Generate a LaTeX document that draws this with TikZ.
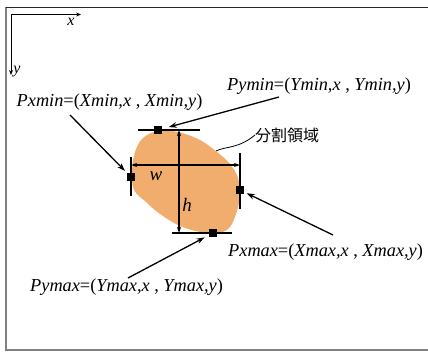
\documentclass[tikz,border=0pt]{standalone}
\usepackage{fontspec}
\setmainfont{Liberation Serif}
\newfontfamily\cjkfont{Noto Sans CJK JP}
\usetikzlibrary{arrows.meta}
\definecolor{blobfill}{RGB}{241,173,110}
\definecolor{framegray}{RGB}{128,128,128}
\tikzset{
  marker/.style={fill=black,draw=none,minimum size=8pt,inner sep=0pt,outer sep=0pt},
  lab/.style={inner sep=0pt,anchor=base west,font=\fontsize{18.3}{18.3}\selectfont},
  ptr/.style={line width=1.3pt,-{Stealth[length=8pt,width=5.5pt]}},
  tick/.style={line width=1.3pt},
  dim/.style={line width=1.1pt,{Stealth[length=6pt,width=4pt]}-{Stealth[length=6pt,width=4pt]}},
  axis/.style={line width=1pt,-{Stealth[length=5pt,width=4pt]}},
}
\begin{document}
\begin{tikzpicture}[x=1pt,y=-1pt]
\useasboundingbox (0,0) rectangle (428,353);
% frame
\draw[framegray,line width=2pt] (5.5,7.5) -- (5.5,350) -- (428,350);
\draw[black!85,line width=1.8pt] (5.5,7.5) -- (428,7.5);
% axes
\coordinate (o) at (11,14.5);
\coordinate (xe) at (81,14.5);
\coordinate (ye) at (11,75);
\draw[axis] (o) -- (xe);
\draw[axis] (o) -- (ye);
\node[font=\fontsize{16}{16}\selectfont\itshape,inner sep=0pt] (xl) at (71,22) {x};
\node[font=\fontsize{16}{16}\selectfont\itshape,inner sep=0pt] (yl) at (17,72) {y};
% blob
\fill[blobfill] plot[smooth cycle,tension=0.6] coordinates {
 (143,138) (158,131) (178,132) (200,140) (217,152) (230,164) (238,178)
 (240,197) (235,217) (228,229) (215,234) (200,232) (180,226) (160,214)
 (146,202) (134,190) (132,172) (135,152)};
% tick lines
\draw[tick] (138,130) -- (200,130);
\draw[tick] (172,233) -- (232,233);
\draw[tick] (131,157) -- (131,196);
\draw[tick] (240,153) -- (240,209);
% dimension arrows
\coordinate (wl) at (131,165);
\coordinate (wr) at (240,165);
\coordinate (ht) at (179,130);
\coordinate (hb) at (179,233);
\draw[dim] (wl) -- (wr);
\draw[dim] (ht) -- (hb);
\node[font=\fontsize{19}{19}\selectfont\itshape,inner sep=0pt] (wlab) at (156,176) {w};
\node[font=\fontsize{19}{19}\selectfont\itshape,inner sep=0pt] (hlab) at (187,205) {h};
% markers
\node[marker] (pymin) at (158,130) {};
\node[marker] (pxmin) at (131,177) {};
\node[marker] (pxmax) at (240,190) {};
\node[marker] (pymax) at (213,233) {};
% labels
\node[lab] (lymin) at (227,90.5) {\textit{Pymin}=(\textit{Ymin,x} , \textit{Ymin,y})};
\node[lab] (lxmin) at (16.5,106) {\textit{Pxmin}=(\textit{Xmin,x} , \textit{Xmin,y})};
\node[lab] (lxmax) at (228,256.5) {\textit{Pxmax}=(\textit{Xmax,x} , \textit{Xmax,y})};
\node[lab] (lymax) at (30,291.5) {\textit{Pymax}=(\textit{Ymax,x} , \textit{Ymax,y})};
% region label
\node[font=\fontsize{16}{16}\selectfont\cjkfont,inner sep=0pt,anchor=west] (reg) at (255,135) {分割領域};
\coordinate (regedge) at (216,151);
\draw[line width=0.8pt] (regedge) .. controls (226,146) and (238,149) .. (reg.west);
% pointer arrows
\coordinate (sy1) at (279,97);
\coordinate (sx1) at (70,115);
\coordinate (sx2) at (333,235);
\coordinate (sy2) at (128,278);
\draw[ptr,shorten >=7pt] (sy1) -- (pymin);
\draw[ptr,shorten >=3pt] (sx1) -- (pxmin);
\draw[ptr,shorten >=3pt] (sx2) -- (pxmax);
\draw[ptr,shorten >=5pt] (sy2) -- (pymax);
\end{tikzpicture}
\end{document}
